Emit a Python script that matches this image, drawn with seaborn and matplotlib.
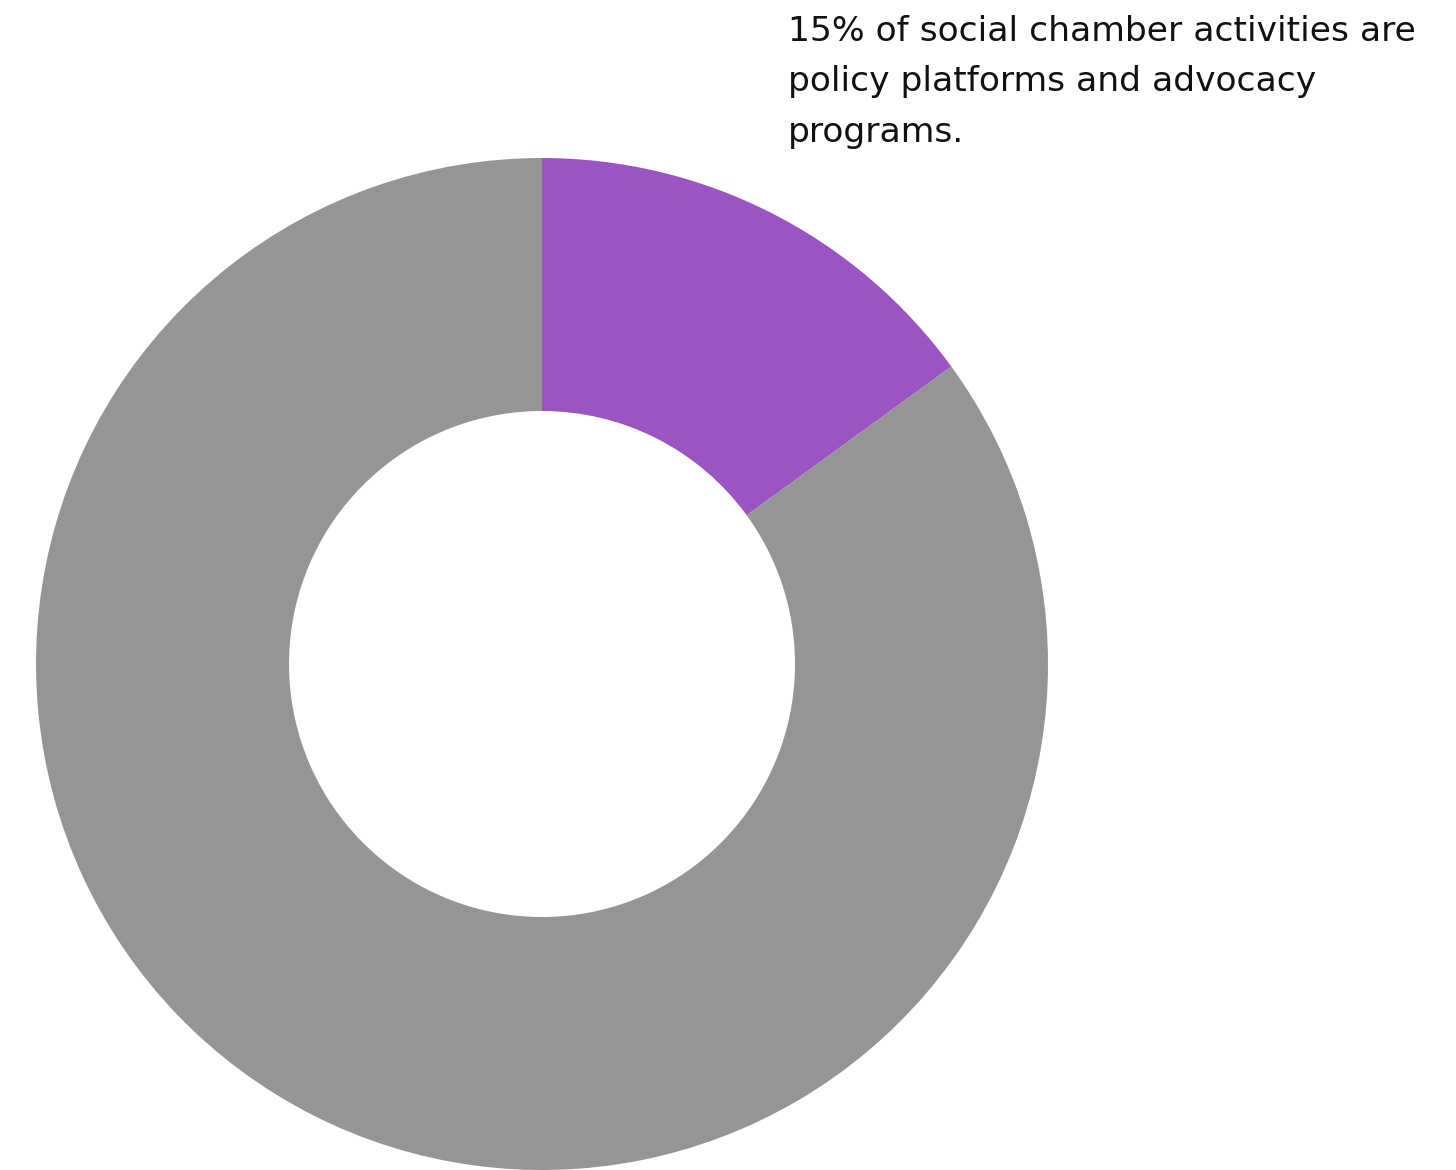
import matplotlib
matplotlib.use("Agg")
import matplotlib.pyplot as plt
import seaborn as sns

# Share of social chamber activities
categories = ["Policy platforms and advocacy programs", "Other activities"]
shares = [15, 85]
colors = ["#9b55c3", "#959595"]
note = "15% of social chamber activities are\npolicy platforms and advocacy\nprograms."

sns.set_theme(style="white")
plt.rcParams["font.family"] = ["DejaVu Sans"]

W, H = 1456, 1170
fig = plt.figure(figsize=(W / 100, H / 100), dpi=100)
fig.patch.set_facecolor("white")

# Donut placed so the ring spans the left part of the canvas
cx, cy, r = 542, 664, 506
ax = fig.add_axes([(cx - r) / W, (H - cy - r) / H, 2 * r / W, 2 * r / H])
ax.pie(
    shares,
    colors=colors,
    startangle=90,
    counterclock=False,
    radius=1.0,
    wedgeprops=dict(width=0.5, linewidth=0, edgecolor="none"),
)
ax.set_xlim(-1, 1)
ax.set_ylim(-1, 1)
ax.set_aspect("equal")
ax.axis("off")

fig.text(788 / W, 1 - 15 / H, note, ha="left", va="top",
         fontsize=24.8, color="#111111", linespacing=1.67)

fig.savefig("out.png", dpi=100, facecolor="white")
